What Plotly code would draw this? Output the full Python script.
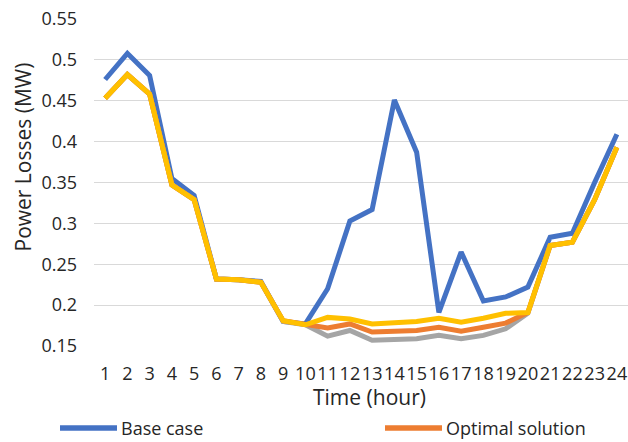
import plotly.graph_objects as go

hours = list(range(1, 25))
tick_labels = [str(h) for h in hours]

base_case = [0.476, 0.508, 0.481, 0.355, 0.334, 0.232, 0.231, 0.229, 0.180, 0.177,
             0.220, 0.303, 0.317, 0.451, 0.387, 0.191, 0.265, 0.205, 0.210, 0.222,
             0.283, 0.288, 0.350, 0.409]
gray_series = [0.453, 0.482, 0.458, 0.347, 0.329, 0.232, 0.231, 0.228, 0.180, 0.176,
               0.162, 0.169, 0.157, 0.158, 0.159, 0.163, 0.159, 0.163, 0.171, 0.190,
               0.273, 0.277, 0.329, 0.393]
optimal_solution = [0.453, 0.482, 0.458, 0.347, 0.329, 0.232, 0.231, 0.228, 0.181, 0.176,
                    0.172, 0.177, 0.167, 0.168, 0.169, 0.173, 0.168, 0.173, 0.178, 0.191,
                    0.273, 0.277, 0.329, 0.393]
yellow_series = [0.453, 0.482, 0.458, 0.347, 0.329, 0.232, 0.231, 0.228, 0.181, 0.176,
                 0.185, 0.183, 0.177, 0.179, 0.180, 0.184, 0.179, 0.184, 0.190, 0.191,
                 0.273, 0.277, 0.329, 0.393]

y_ticks = [0.15, 0.2, 0.25, 0.3, 0.35, 0.4, 0.45, 0.5, 0.55]
y_tick_text = ["0.15", "0.2", "0.25", "0.3", "0.35", "0.4", "0.45", "0.5", "0.55"]

x_title = "Time (hour)"
y_title = "Power Losses (MW)"
legend_names = ["Base case", "Optimal solution"]

FONT = "'Open Sans', sans-serif"
TXT = "#262626"
BLUE, ORANGE, GRAY, YELLOW = "#4472C4", "#ED7D31", "#A5A5A5", "#FFC000"
LW = 5

W, H = 628, 442
L, R, T, B = 94, 0, 19, 96
PW, PH = W - L - R, H - T - B


def px_x(p):
    return (p - L) / PW


def px_y(p):
    return (H - B - p) / PH


fig = go.Figure()
fig.add_trace(go.Scatter(x=hours, y=base_case, mode="lines", name=legend_names[0],
                         line=dict(color=BLUE, width=LW), showlegend=False))
fig.add_trace(go.Scatter(x=hours, y=gray_series, mode="lines", name="Series 3",
                         line=dict(color=GRAY, width=LW), showlegend=False))
fig.add_trace(go.Scatter(x=hours, y=optimal_solution, mode="lines", name=legend_names[1],
                         line=dict(color=ORANGE, width=LW), showlegend=False))
fig.add_trace(go.Scatter(x=hours, y=yellow_series, mode="lines", name="Series 4",
                         line=dict(color=YELLOW, width=LW), showlegend=False))

# legend (drawn manually to match the long legend keys)
leg_y = px_y(428)
for (x0, x1, tx, color, name) in [(60, 117, 119, BLUE, legend_names[0]),
                                  (385, 442, 444, ORANGE, legend_names[1])]:
    fig.add_shape(type="line", xref="paper", yref="paper",
                  x0=px_x(x0), x1=px_x(x1), y0=leg_y, y1=leg_y,
                  line=dict(color=color, width=5.5))
    fig.add_annotation(text=name, xref="paper", yref="paper", x=px_x(tx), y=leg_y,
                       xanchor="left", yanchor="middle", showarrow=False,
                       font=dict(family=FONT, size=18, color=TXT))

# axis titles
fig.add_annotation(text=x_title, xref="paper", yref="paper", x=px_x(369), y=px_y(397),
                   xanchor="center", yanchor="middle", showarrow=False,
                   font=dict(family=FONT, size=21, color=TXT))
fig.add_annotation(text=y_title, xref="paper", yref="paper", x=px_x(22), y=px_y(157.5),
                   xanchor="center", yanchor="middle", showarrow=False, textangle=-90,
                   font=dict(family=FONT, size=21, color=TXT))

fig.update_layout(
    width=W, height=H,
    margin=dict(l=L, r=R, t=T, b=B, autoexpand=False),
    paper_bgcolor="white", plot_bgcolor="white",
    font=dict(family=FONT, size=18, color=TXT),
    showlegend=False,
    xaxis=dict(
        range=[0.5, 24.5], tickmode="array", tickvals=hours, ticktext=tick_labels,
        tickangle=0, showgrid=False, zeroline=False, showline=False, automargin=False,
        ticks="", tickfont=dict(size=18, color=TXT), ticklabelstandoff=15,
    ),
    yaxis=dict(
        range=[0.15, 0.55], tickmode="array", tickvals=y_ticks, ticktext=y_tick_text,
        showgrid=True, gridcolor="#D9D9D9", gridwidth=1, zeroline=False, showline=False,
        automargin=False,
        ticks="", tickfont=dict(size=18, color=TXT), ticklabelstandoff=16,
    ),
)

fig.write_html("out.html")
